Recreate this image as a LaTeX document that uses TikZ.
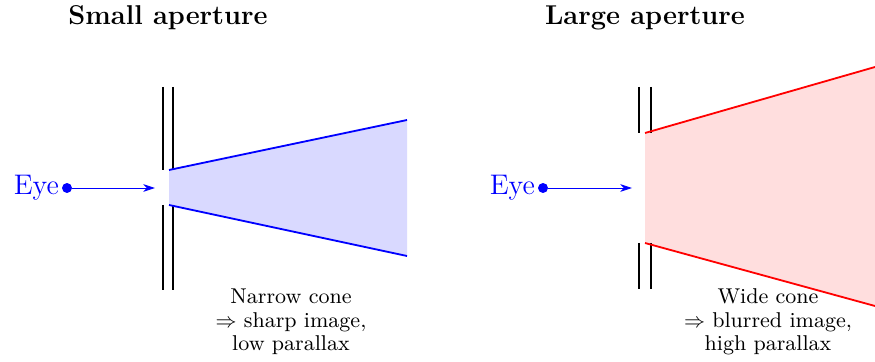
\documentclass[tikz,border=0pt]{standalone}
\usetikzlibrary{arrows.meta}
\begin{document}
\begin{tikzpicture}[x=0.0155cm,y=-0.0155cm,
  plate/.style={black,thick},
  ray/.style={thick},
  eyedot/.style={circle,fill=blue,inner sep=0pt,minimum size=4.4pt},
  eyelabel/.style={blue,font=\fontsize{12.5}{14}\selectfont,anchor=east,inner sep=1pt},
  sight/.style={blue,-{Stealth[length=5.2pt,width=3.4pt,inset=1.6pt]}},
  paneltitle/.style={font=\large\bfseries},
  note/.style={font=\fontsize{9.45}{10.45}\selectfont,align=center}]
\useasboundingbox (0,0) rectangle (875,362);
% Left panel
\node[paneltitle] (t1) at (168,18) {Small aperture};
\fill[blue!15] (169,170) -- (407,120) -- (407,256) -- (169,205) -- cycle;
\draw[plate] (163,87) -- (163,170) (173,87) -- (173,170);
\draw[plate] (163,205) -- (163,290) (173,205) -- (173,290);
\coordinate (c1a) at (169,170);
\coordinate (c1b) at (407,120);
\coordinate (c1c) at (169,205);
\coordinate (c1d) at (407,256);
\draw[ray,blue] (c1a) -- (c1b);
\draw[ray,blue] (c1c) -- (c1d);
\node[eyedot] (e1) at (67,188) {};
\node[eyelabel] (l1) at (e1.west) {Eye};
\coordinate (a1) at (155,188);
\draw[sight] (e1) -- (a1);
\node[note] (n1) at (291,322) {Narrow cone\\$\Rightarrow$ sharp image,\\low parallax};
% Right panel
\node[paneltitle] (t2) at (645,18) {Large aperture};
\fill[red!13] (645,133) -- (875,67) -- (875,306) -- (645,243) -- cycle;
\draw[plate] (639,87) -- (639,133) (651,87) -- (651,133);
\draw[plate] (639,243) -- (639,289) (651,243) -- (651,289);
\coordinate (c2a) at (645,133);
\coordinate (c2b) at (875,67);
\coordinate (c2c) at (645,243);
\coordinate (c2d) at (875,306);
\draw[ray,red] (c2a) -- (c2b);
\draw[ray,red] (c2c) -- (c2d);
\node[eyedot] (e2) at (543,188) {};
\node[eyelabel] (l2) at (e2.west) {Eye};
\coordinate (a2) at (632,188);
\draw[sight] (e2) -- (a2);
\node[note] (n2) at (768,322) {Wide cone\\$\Rightarrow$ blurred image,\\high parallax};
\end{tikzpicture}
\end{document}
